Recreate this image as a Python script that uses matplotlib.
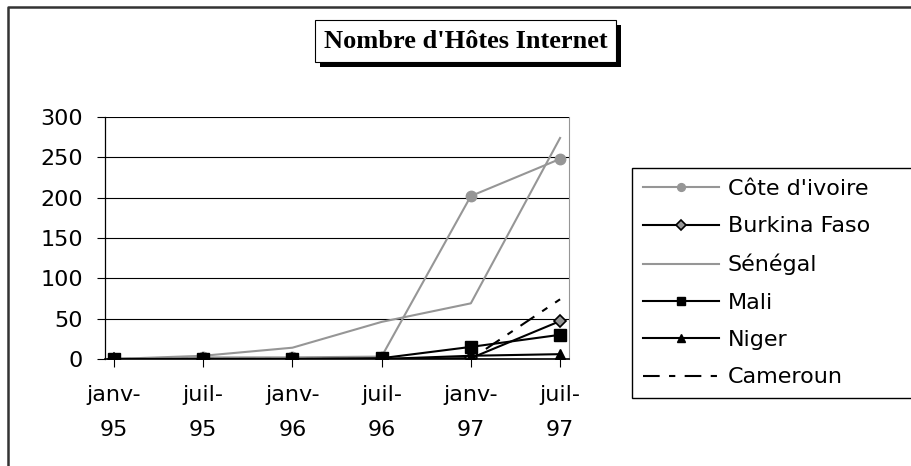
import matplotlib.pyplot as plt
from matplotlib.lines import Line2D
from matplotlib.patches import Rectangle

# données : nombre d'hôtes Internet par pays
periodes = ["janv-\n95", "juil-\n95", "janv-\n96", "juil-\n96", "janv-\n97", "juil-\n97"]
cote_ivoire = [0, 2, 2, 3, 202, 248]
burkina = [0, 0, 0, 0, 1, 47]
senegal = [0, 4, 14, 46, 69, 274]
mali = [0, 0, 0, 1, 15, 30]
niger = [0, 0, 0, 0, 4, 6]
cameroun = [0, 0, 0, 0, 0, 74]

gris = "#969696"
plt.rcParams["font.family"] = ["DejaVu Sans"]

fig = plt.figure(figsize=(9.12, 4.66), dpi=100)
ax = fig.add_axes([105 / 912, 1 - 359 / 466, 464 / 912, 242 / 466])

x = range(len(periodes))
ax.plot(x, cote_ivoire, color=gris, lw=1.5, marker="o", ms=7.5,
        label="Côte d'ivoire")
ax.plot(x, burkina, color="black", lw=1.5, marker="D", ms=6.5,
        mfc=gris, mec="black", mew=1.2, label="Burkina Faso")
ax.plot(x, senegal, color=gris, lw=1.5, label="Sénégal")
ax.plot(x, mali, color="black", lw=1.5, marker="s", ms=8, label="Mali")
ax.plot(x, niger, color="black", lw=1.5, marker="^", ms=7.5, label="Niger")
ax.plot(x, cameroun, color="black", lw=1.5, ls=(0, (8, 4.5, 3, 4.5)),
        label="Cameroun")

ax.set_xlim(-0.1, 5.1)
ax.set_ylim(0, 300)
ax.set_yticks(range(0, 301, 50))
ax.set_xticks(list(x))
ax.set_xticklabels(periodes, linespacing=1.9)
ax.yaxis.grid(True, color="black", lw=0.8)
ax.set_axisbelow(True)
ax.tick_params(axis="y", direction="out", length=6, width=0.8, pad=10,
               labelsize=16)
ax.tick_params(axis="x", direction="out", length=6, width=0.8, pad=13,
               labelsize=16)
ax.spines["top"].set_visible(False)
ax.spines["right"].set_color(gris)
ax.spines["left"].set_linewidth(0.9)
ax.spines["bottom"].set_linewidth(1.2)

# légende élargie jusqu'au bord droit (coupée par la figure)
leg = fig.legend(loc="upper left",
                 bbox_to_anchor=(632 / 912, 1 - 398 / 466, 300 / 912, 230 / 466),
                 mode="expand", fontsize=16, handlelength=3.4,
                 handletextpad=0.4, labelspacing=0.78, borderpad=0.5,
                 borderaxespad=0, fancybox=False, framealpha=1,
                 markerscale=0.75)
leg.get_frame().set_edgecolor("black")
leg.get_frame().set_linewidth(1.0)

# cadre du titre avec ombre portée
W, H = 912, 466
fig.patches.append(Rectangle((320 / W, 1 - 67 / H), 301 / W, 42 / H,
                             transform=fig.transFigure, facecolor="black",
                             edgecolor="none", zorder=1))
fig.patches.append(Rectangle((315 / W, 1 - 62 / H), 301 / W, 42 / H,
                             transform=fig.transFigure, facecolor="white",
                             edgecolor="black", lw=0.8, zorder=2))
fig.text(465.5 / W, 1 - 41 / H, "Nombre d'Hôtes Internet",
         family=["Liberation Serif", "DejaVu Serif"], weight="bold",
         fontsize=19, ha="center", va="center", zorder=3)

# bordure extérieure du graphique
fig.lines.append(Line2D([8 / W, 8 / W, 1.0], [0, 1 - 7 / H, 1 - 7 / H],
                        transform=fig.transFigure, color="#333333", lw=1.8))

fig.savefig("out.png", dpi=100)
